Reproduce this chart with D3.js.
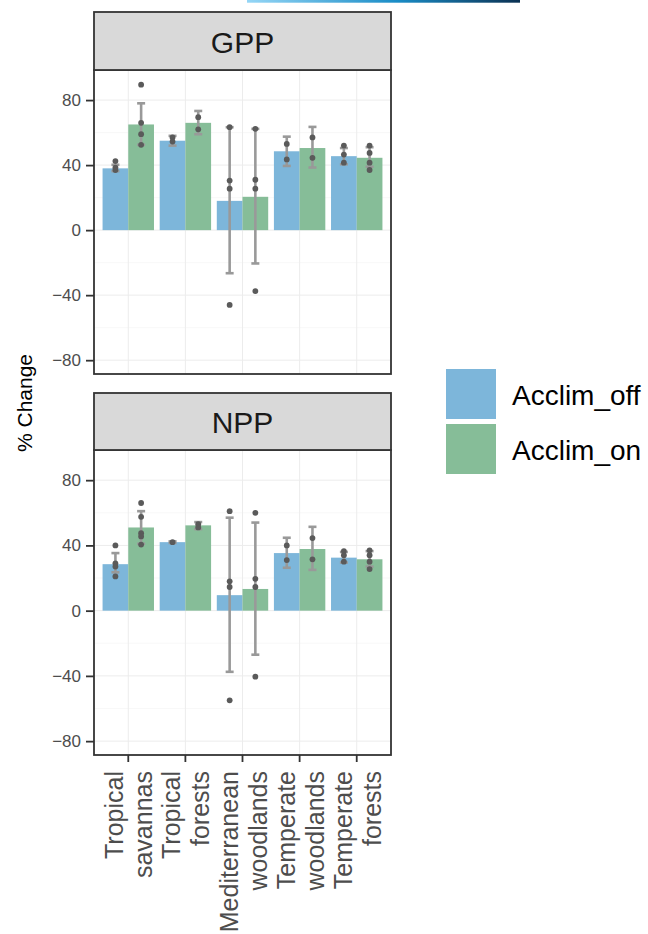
<!DOCTYPE html>
<html>
<head>
<meta charset="utf-8">
<script src="https://cdn.jsdelivr.net/npm/d3@7"></script>
<style>
    html, body { margin: 0; padding: 0; background: #fff; }
    svg { display: block; font-family: "Liberation Sans", Arial, sans-serif; }
</style>
</head>
<body>
<div id="chart"></div>
<script>
/* -------------------------------------------------------
   DATOS
------------------------------------------------------- */

const biomes = ["Tropical savannas", "Tropical forests", "Mediterranean woodlands", "Temperate woodlands", "Temperate forests"];
const biomeLines = [["Tropical", "savannas"], ["Tropical", "forests"], ["Mediterranean", "woodlands"], ["Temperate", "woodlands"], ["Temperate", "forests"]];
const treatments = ["Acclim_off", "Acclim_on"];
const panels = ["GPP", "NPP"];
const yTicks = [-80, -40, 0, 40, 80];
const yMinor = [-60, -20, 20, 60];

// GPP
const gppMeanOff = [38, 55, 18, 48.5, 45.5];
const gppMeanOn  = [65, 66, 20.5, 50.5, 44.5];
const gppLoOff = [36.3, 52, -26.5, 39.5, 40.5];
const gppHiOff = [40.2, 58, 63.3, 57.5, 50.5];
const gppLoOn  = [52.5, 59, -20.5, 38.5, 39];
const gppHiOn  = [78, 73.3, 62.3, 63.5, 51];
const gppPtsOff = [[42.5, 38.5, 37], [57, 54.5], [63.3, 30.5, 25.5, -46], [53, 43.5], [52, 46.5, 41.5]];
const gppPtsOn  = [[89.5, 66, 59, 52.5], [69.5, 62], [62.3, 31, 25.5, -37.5], [57, 44.5], [52, 47.5, 41.5, 37]];

// NPP
const nppMeanOff = [28.5, 42, 9.5, 35.3, 32.5];
const nppMeanOn  = [51, 52.3, 13.3, 37.8, 31.5];
const nppLoOff = [23.5, 41.5, -37.5, 26.3, 29.5];
const nppHiOff = [35.3, 42.5, 57, 44.7, 36];
const nppLoOn  = [41, 50, -27, 25, 27];
const nppHiOn  = [61, 54.3, 54, 51.4, 36.5];
const nppPtsOff = [[40, 29, 27, 21], [42], [61, 18, 14.5, -55], [40, 31], [36.5, 34, 30]];
const nppPtsOn  = [[66, 57.5, 47.5, 45.5, 40.5], [53, 51], [60, 19.5, 14.5, -40.5], [44.5, 31.5], [37, 34, 30, 25.5]];

const colors = { Acclim_off: "#7db6da", Acclim_on: "#86bd98" };

/* -------------------------------------------------------
   CONSTRUIR FILAS
------------------------------------------------------- */

function buildRows(meanOff, meanOn, loOff, hiOff, loOn, hiOn, ptsOff, ptsOn) {
    const rows = [];
    biomes.forEach((b, i) => {
        rows.push({ biome: b, trt: "Acclim_off", mean: meanOff[i], lo: loOff[i], hi: hiOff[i], pts: ptsOff[i] });
        rows.push({ biome: b, trt: "Acclim_on", mean: meanOn[i], lo: loOn[i], hi: hiOn[i], pts: ptsOn[i] });
    });
    return rows;
}

const panelData = {
    GPP: buildRows(gppMeanOff, gppMeanOn, gppLoOff, gppHiOff, gppLoOn, gppHiOn, gppPtsOff, gppPtsOn),
    NPP: buildRows(nppMeanOff, nppMeanOn, nppLoOff, nppHiOff, nppLoOn, nppHiOn, nppPtsOff, nppPtsOn)
};

/* -------------------------------------------------------
   LAYOUT
------------------------------------------------------- */

const W = 648, H = 934;
const panelLeft = 94, panelRight = 391;
const layout = {
    GPP: { stripTop: 12, top: 70, bottom: 374 },
    NPP: { stripTop: 393, top: 450, bottom: 755 }
};

const svg = d3.select("#chart")
    .append("svg")
    .attr("width", W)
    .attr("height", H);

// barra decorativa superior (recorte)
const grad = svg.append("defs").append("linearGradient")
    .attr("id", "topGrad")
    .attr("x1", "0%").attr("x2", "100%");
grad.append("stop").attr("offset", "0%").attr("stop-color", "#95d6f6");
grad.append("stop").attr("offset", "55%").attr("stop-color", "#1a8cc6");
grad.append("stop").attr("offset", "100%").attr("stop-color", "#0b3152");
svg.append("rect")
    .attr("x", 247).attr("y", 0)
    .attr("width", 273).attr("height", 2.7)
    .attr("fill", "url(#topGrad)");

const x = d3.scaleBand()
    .domain(biomes)
    .range([panelLeft, panelRight])
    .paddingInner(0.1)
    .paddingOuter(0.15);

const xInner = d3.scaleBand()
    .domain(treatments)
    .range([0, x.bandwidth()]);

/* -------------------------------------------------------
   PANELES
------------------------------------------------------- */

panels.forEach(p => {
    const L = layout[p];
    const data = panelData[p];

    const y = d3.scaleLinear()
        .domain([-88.5, 98.5])
        .range([L.bottom, L.top]);

    const g = svg.append("g");

    // fondo
    g.append("rect")
        .attr("x", panelLeft).attr("y", L.top)
        .attr("width", panelRight - panelLeft).attr("height", L.bottom - L.top)
        .attr("fill", "#fff");

    // grid menor
    g.selectAll(".minor")
        .data(yMinor)
        .enter()
        .append("line")
        .attr("x1", panelLeft).attr("x2", panelRight)
        .attr("y1", d => y(d)).attr("y2", d => y(d))
        .attr("stroke", "#f4f4f4")
        .attr("stroke-width", 0.6);

    // grid mayor
    g.selectAll(".major")
        .data(yTicks)
        .enter()
        .append("line")
        .attr("x1", panelLeft).attr("x2", panelRight)
        .attr("y1", d => y(d)).attr("y2", d => y(d))
        .attr("stroke", "#ececec")
        .attr("stroke-width", 1);

    g.selectAll(".vgrid")
        .data(biomes)
        .enter()
        .append("line")
        .attr("x1", d => x(d) + x.bandwidth() / 2)
        .attr("x2", d => x(d) + x.bandwidth() / 2)
        .attr("y1", L.top).attr("y2", L.bottom)
        .attr("stroke", "#ececec")
        .attr("stroke-width", 1);

    // barras
    g.selectAll(".bar")
        .data(data)
        .enter()
        .append("rect")
        .attr("x", d => x(d.biome) + xInner(d.trt))
        .attr("width", xInner.bandwidth())
        .attr("y", d => y(Math.max(0, d.mean)))
        .attr("height", d => Math.abs(y(d.mean) - y(0)))
        .attr("fill", d => colors[d.trt]);

    // barras de error
    const cx = d => x(d.biome) + xInner(d.trt) + xInner.bandwidth() / 2;
    const err = g.append("g")
        .attr("stroke", "#999999")
        .attr("stroke-width", 2.6)
        .attr("fill", "none");

    err.selectAll(".ev")
        .data(data)
        .enter()
        .append("line")
        .attr("x1", cx).attr("x2", cx)
        .attr("y1", d => y(d.lo)).attr("y2", d => y(d.hi));

    ["lo", "hi"].forEach(k => {
        err.selectAll(".cap-" + k)
            .data(data)
            .enter()
            .append("line")
            .attr("x1", d => cx(d) - 4).attr("x2", d => cx(d) + 4)
            .attr("y1", d => y(d[k])).attr("y2", d => y(d[k]));
    });

    // puntos
    const pts = data.flatMap(d => d.pts.map(v => ({ biome: d.biome, trt: d.trt, v })));
    g.selectAll(".pt")
        .data(pts)
        .enter()
        .append("circle")
        .attr("cx", cx)
        .attr("cy", d => y(d.v))
        .attr("r", 2.9)
        .attr("fill", "#5a5a5a");

    // borde del panel
    g.append("rect")
        .attr("x", panelLeft).attr("y", L.top)
        .attr("width", panelRight - panelLeft).attr("height", L.bottom - L.top)
        .attr("fill", "none")
        .attr("stroke", "#333")
        .attr("stroke-width", 1.8);

    // strip
    g.append("rect")
        .attr("x", panelLeft).attr("y", L.stripTop)
        .attr("width", panelRight - panelLeft).attr("height", L.top - L.stripTop)
        .attr("fill", "#d9d9d9")
        .attr("stroke", "#333")
        .attr("stroke-width", 1.8);

    g.append("text")
        .attr("x", (panelLeft + panelRight) / 2)
        .attr("y", (L.stripTop + L.top) / 2 + 1)
        .attr("text-anchor", "middle")
        .attr("dominant-baseline", "central")
        .attr("font-size", 30)
        .attr("fill", "#1a1a1a")
        .text(p);

    // eje y
    const axis = g.append("g")
        .attr("transform", `translate(${panelLeft},0)`)
        .call(d3.axisLeft(y).tickValues(yTicks).tickSize(8).tickPadding(5)
            .tickFormat(d => d < 0 ? "\u2212" + Math.abs(d) : d));
    axis.select(".domain").remove();
    axis.selectAll(".tick line").attr("stroke", "#333").attr("stroke-width", 1.8);
    axis.selectAll(".tick text")
        .attr("font-size", 17)
        .attr("fill", "#4d4d4d")
        .attr("font-family", "Liberation Sans, Arial, sans-serif");
});

/* -------------------------------------------------------
   EJE X (solo panel inferior)
------------------------------------------------------- */

const xb = layout.NPP.bottom;
const xAxis = svg.append("g");

xAxis.selectAll(".xtick")
    .data(biomes)
    .enter()
    .append("line")
    .attr("x1", d => x(d) + x.bandwidth() / 2)
    .attr("x2", d => x(d) + x.bandwidth() / 2)
    .attr("y1", xb).attr("y2", xb + 7)
    .attr("stroke", "#333")
    .attr("stroke-width", 1.8);

biomes.forEach((b, i) => {
    const c = x(b) + x.bandwidth() / 2;
    biomeLines[i].forEach((line, j) => {
        xAxis.append("text")
            .attr("transform", `translate(${c + (j === 0 ? -14 : 15)},${xb + 16}) rotate(-90)`)
            .attr("text-anchor", "end")
            .attr("dominant-baseline", "central")
            .attr("font-size", 25)
            .attr("fill", "#4d4d4d")
            .text(line);
    });
});

/* -------------------------------------------------------
   TÍTULO Y
------------------------------------------------------- */

svg.append("text")
    .attr("transform", "translate(24,403) rotate(-90)")
    .attr("text-anchor", "middle")
    .attr("dominant-baseline", "central")
    .attr("font-size", 21)
    .attr("fill", "#000")
    .text("% Change");

/* -------------------------------------------------------
   LEYENDA
------------------------------------------------------- */

const legend = svg.append("g")
    .attr("transform", "translate(446,369)");

treatments.forEach((t, i) => {
    legend.append("rect")
        .attr("x", 0).attr("y", i * 55)
        .attr("width", 50).attr("height", 50)
        .attr("fill", colors[t]);
    legend.append("text")
        .attr("x", 66).attr("y", i * 55 + 26)
        .attr("dominant-baseline", "central")
        .attr("font-size", 28)
        .attr("fill", "#000")
        .text(t);
});
</script>
</body>
</html>
